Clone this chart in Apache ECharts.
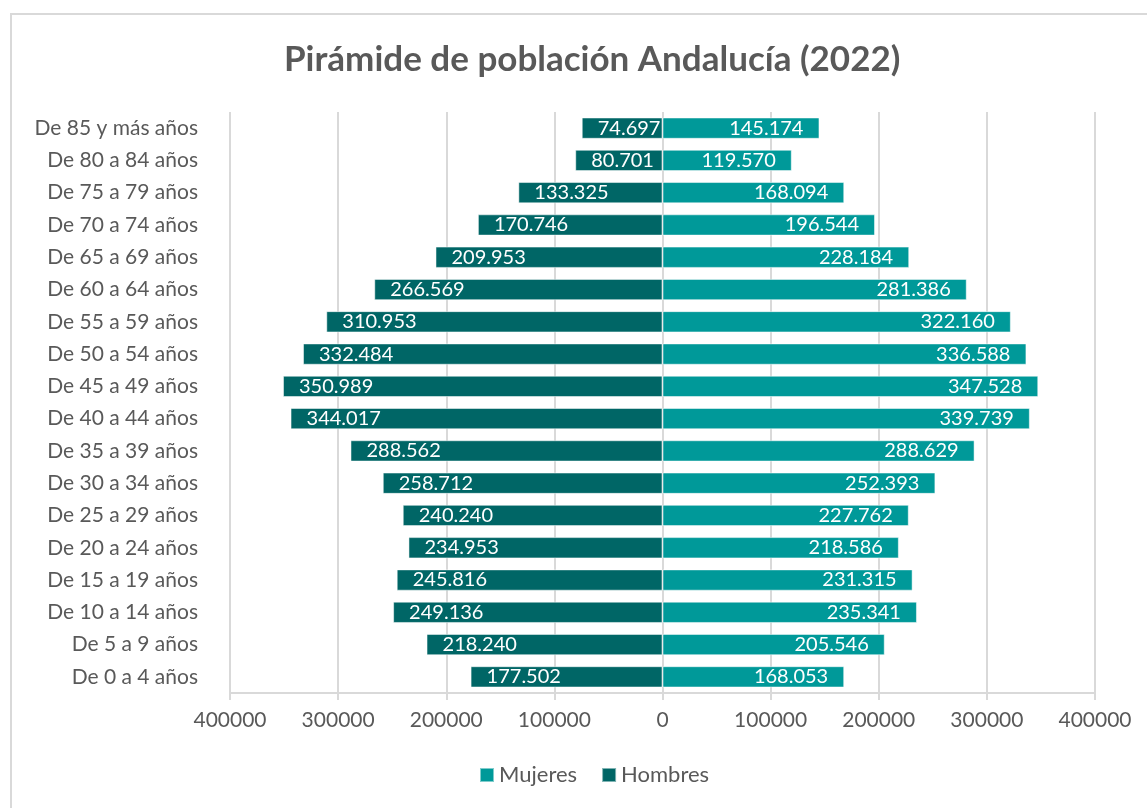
<!DOCTYPE html>
<html>
<head>
<meta charset="utf-8">
<style>
    html, body {margin:0;padding:0;background:#ffffff;overflow:hidden;}
    .marco {position:absolute;left:10px;top:13px;width:1200px;height:900px;border:2px solid #d9d9d9;}
    #grafico {position:absolute;left:0;top:0;width:1147px;height:808px;}
</style>
<script src="https://cdn.jsdelivr.net/npm/echarts@6/dist/echarts.min.js"></script>
</head>
<body>
<div class="marco"></div>
<div id="grafico"></div>
<script>
    // grupos de edad, de abajo hacia arriba
    var edades = ['De 0 a 4 años', 'De 5 a 9 años', 'De 10 a 14 años', 'De 15 a 19 años',
        'De 20 a 24 años', 'De 25 a 29 años', 'De 30 a 34 años', 'De 35 a 39 años',
        'De 40 a 44 años', 'De 45 a 49 años', 'De 50 a 54 años', 'De 55 a 59 años',
        'De 60 a 64 años', 'De 65 a 69 años', 'De 70 a 74 años', 'De 75 a 79 años',
        'De 80 a 84 años', 'De 85 y más años'];
    var mujeres = [168053, 205546, 235341, 231315, 218586, 227762, 252393, 288629,
        339739, 347528, 336588, 322160, 281386, 228184, 196544, 168094, 119570, 145174];
    var hombres = [177502, 218240, 249136, 245816, 234953, 240240, 258712, 288562,
        344017, 350989, 332484, 310953, 266569, 209953, 170746, 133325, 80701, 74697];

    var fuente = 'Lato, "Noto Sans", sans-serif';

    function miles(v) {
        return String(Math.abs(v)).replace(/\B(?=(\d{3})+(?!\d))/g, '.');
    }

    var myChart = echarts.init(document.getElementById('grafico'));
    var option = {
        animation: false,
        title: {
            text: 'Pirámide de población Andalucía (2022)',
            left: 279,
            top: 37,
            textStyle: {fontFamily: fuente, fontSize: 35, fontWeight: 'bold', color: '#595959'}
        },
        legend: {
            bottom: 17,
            left: 474,
            itemWidth: 14,
            itemHeight: 14,
            itemGap: 24,
            icon: 'rect',
            textStyle: {fontFamily: fuente, fontSize: 22, color: '#595959'},
            data: ['Mujeres', 'Hombres']
        },
        grid: {left: 230, right: 52, top: 112, bottom: 115, containLabel: false},
        xAxis: {
            type: 'value',
            min: -400000,
            max: 400000,
            interval: 100000,
            axisLine: {show: true, lineStyle: {color: '#d9d9d9', width: 2}},
            axisTick: {show: true, length: 7, lineStyle: {color: '#d9d9d9', width: 2}},
            splitLine: {show: true, lineStyle: {color: '#d9d9d9', width: 2}},
            axisLabel: {
                fontFamily: fuente, fontSize: 21, color: '#595959', margin: 17,
                formatter: function (v) { return String(Math.abs(v)); }
            }
        },
        yAxis: {
            type: 'category',
            data: edades,
            axisLine: {show: false},
            axisTick: {show: false},
            axisLabel: {fontFamily: fuente, fontSize: 21, color: '#595959', margin: 32}
        },
        series: [
            {
                name: 'Mujeres',
                type: 'bar',
                stack: 'total',
                barWidth: '66%',
                data: mujeres,
                itemStyle: {color: '#009999', borderColor: 'rgba(255,255,255,0.5)', borderWidth: 1},
                label: {
                    show: true, position: 'insideRight', distance: 16,
                    fontFamily: fuente, fontSize: 20, color: '#ffffff',
                    formatter: function (p) { return miles(p.value); }
                }
            },
            {
                name: 'Hombres',
                type: 'bar',
                stack: 'total',
                barWidth: '66%',
                data: hombres.map(function (v) { return -v; }),
                itemStyle: {color: '#006666', borderColor: 'rgba(255,255,255,0.5)', borderWidth: 1},
                label: {
                    show: true, position: 'insideLeft', distance: 16,
                    fontFamily: fuente, fontSize: 20, color: '#ffffff',
                    formatter: function (p) { return miles(p.value); }
                }
            }
        ]
    };
    myChart.setOption(option);
</script>
</body>
</html>
